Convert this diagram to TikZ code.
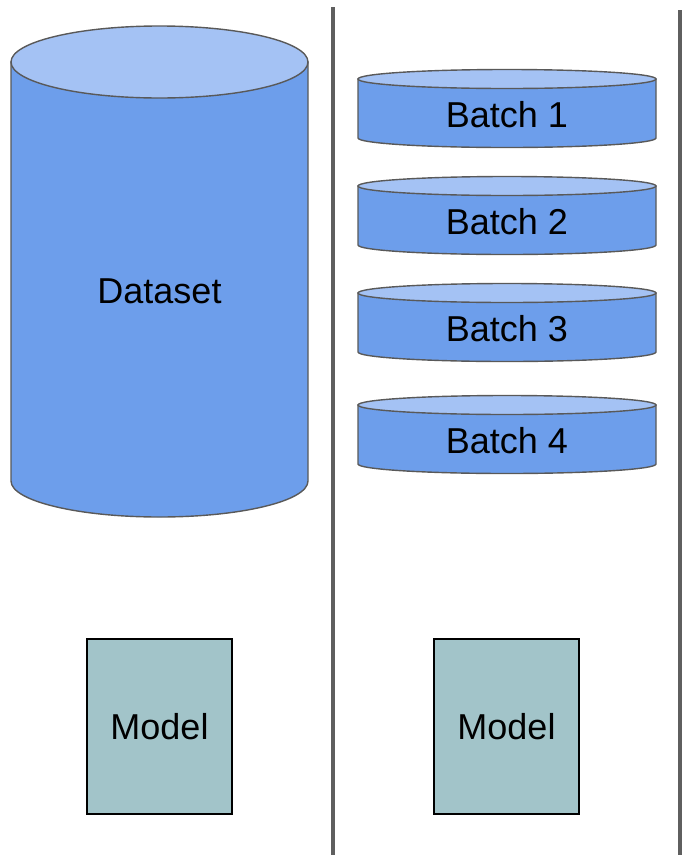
\documentclass[tikz,border=0pt]{standalone}
\usepackage{fontspec}
\setmainfont{Liberation Sans}

\definecolor{cylside}{HTML}{6D9EEB}
\definecolor{cyltop}{HTML}{A4C2F4}
\definecolor{cylline}{HTML}{595959}
\definecolor{modelfill}{HTML}{A2C4C9}
\definecolor{divgray}{HTML}{5F5F5F}

\tikzset{
  cylbody/.style={draw=cylline, fill=cylside, line width=1.4pt},
  cyllid/.style={draw=cylline, fill=cyltop, line width=1.4pt},
  modelbox/.style={draw=black, fill=modelfill, line width=1.8pt, inner sep=0pt,
    minimum width=145pt, minimum height=175pt, font=\fontsize{36}{40}\selectfont},
  txt/.style={inner sep=0pt, font=\fontsize{36}{40}\selectfont},
  divider/.style={draw=divgray, line width=4.5pt}
}

\begin{document}
\begin{tikzpicture}[x=1pt, y=-1pt]
\useasboundingbox (0,0) rectangle (681,855);

% Separateurs
\coordinate (d1top) at (333,7);
\coordinate (d1bot) at (333,855);
\coordinate (d2top) at (680,10);
\coordinate (d2bot) at (680,855);
\draw[divider] (d1top) -- (d1bot);
\draw[divider] (d2top) -- (d2bot);

% Jeu de donnees complet
\draw[cylbody] (11,62) -- (11,481) arc (180:0:148.5 and 36) -- (308,62) -- cycle;
\draw[cyllid] (159.5,62) ellipse (148.5 and 36);
\node[txt] (dataset) at (159.5,291) {Dataset};

% Lots
\foreach \y/\n in {79/1, 186/2, 293/3, 405/4}{
  \draw[cylbody] (358,\y) -- (358,\y+59) arc (180:0:149 and 9.5) -- (656,\y) -- cycle;
  \draw[cyllid] (507,\y) ellipse (149 and 9.5);
  \node[txt] (batch\n) at (507,\y+36) {Batch \n};
}

% Modeles
\node[modelbox] (model1) at (159.5,726.5) {Model};
\node[modelbox] (model2) at (506.5,726.5) {Model};

\end{tikzpicture}
\end{document}
